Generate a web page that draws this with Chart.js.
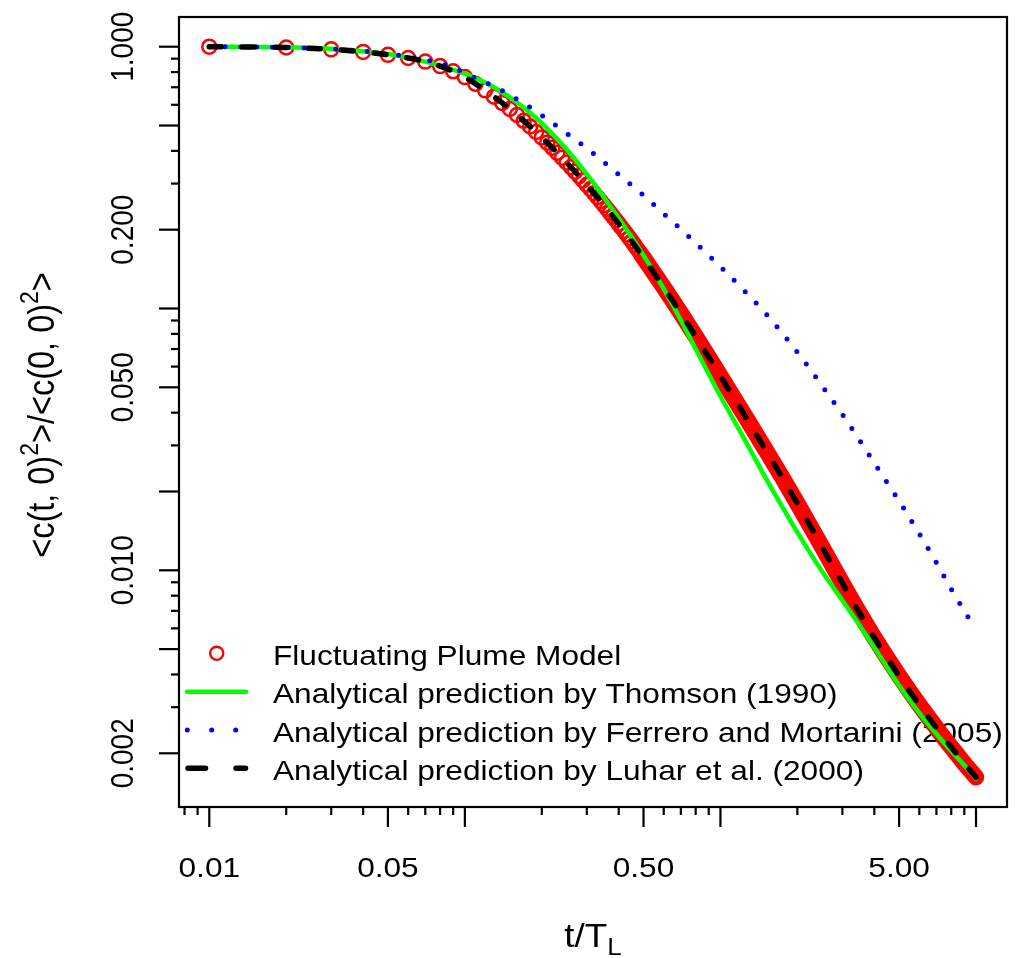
<!DOCTYPE html>
<html><head><meta charset="utf-8">
<script src="https://cdn.jsdelivr.net/npm/chart.js@4.4.1/dist/chart.umd.min.js"></script>
<style>html,body{margin:0;padding:0;background:#fff;}#wrap{width:1022px;height:958px;position:relative;}</style>
</head><body><div id="wrap"><canvas id="c" width="1022" height="958"></canvas></div>
<script>
// ---------- data ----------
const plumeT = [0.01,0.02,0.03,0.04,0.05,0.06,0.07,0.08,0.09,0.10,0.11,0.12,0.13,0.14,0.15,0.16,0.17,0.18,0.19,0.20,0.21,0.22,0.23,0.24,0.25,0.26,0.27,0.28,0.29,0.30,0.31,0.32,0.33,0.34,0.35,0.36,0.37,0.38,0.39,0.40,0.41,0.42,0.43,0.44,0.45,0.46,0.47,0.48,0.49,0.50];
const plumeV = [1.0000,0.9931,0.9772,0.9550,0.9311,0.9057,0.8770,0.8433,0.8054,0.7656,0.7216,0.6813,0.6443,0.6100,0.5780,0.5485,0.5211,0.4957,0.4722,0.4503,0.4300,0.4110,0.3933,0.3767,0.3612,0.3467,0.3331,0.3203,0.3082,0.2968,0.2860,0.2757,0.2661,0.2569,0.2482,0.2399,0.2320,0.2245,0.2173,0.2105,0.2039,0.1977,0.1918,0.1861,0.1806,0.1754,0.1702,0.1654,0.1607,0.1563];
// dense part of the model (circles merge into a solid band)
const bandT = [0.5,0.6,0.7,0.8,0.9,1.0,1.25,1.5,1.75,2.0,2.5,3.0,3.5,4.0,5.0,6.0,7.0,8.0,9.0,10.0];
const bandV = [0.1563,0.1204,0.0959,0.0782,0.0652,0.0552,0.0387,0.0289,0.0225,0.0180,0.01227,0.00893,0.00687,0.00553,0.00395,0.00306,0.00250,0.00211,0.00183,0.00162];
const thomsonT = [0.01,0.02,0.03,0.04,0.05,0.06,0.07,0.08,0.10,0.12,0.14,0.16,0.18,0.20,0.25,0.30,0.35,0.40,0.45,0.50,0.60,0.70,0.80,0.90,1.0,1.25,1.5,1.75,2.0,2.5,3.0,3.5,4.0,5.0,6.0,7.0,8.0,9.0,10.0];
const thomsonV = [1.0,0.9954,0.9817,0.9616,0.9376,0.9078,0.8770,0.8453,0.7889,0.7295,0.6699,0.6124,0.5598,0.5105,0.4055,0.3258,0.2661,0.2213,0.1871,0.1596,0.1189,0.0902,0.0700,0.0562,0.0462,0.0313,0.0226,0.0174,0.01396,0.00989,0.00767,0.00617,0.00507,0.00363,0.00285,0.00237,0.00204,0.00180,0.00160];
const ferreroT = [0.01,0.02,0.03,0.04,0.05,0.06,0.07,0.08,0.09,0.10,0.12,0.14,0.16,0.18,0.20,0.25,0.30,0.35,0.40,0.50,0.60,0.70,0.80,0.90,1.0,1.25,1.5,2.0,2.5,3.0,3.5,4.0,5.0,6.0,7.0,8.0,9.0,10.0];
const ferreroV = [1.0,0.9931,0.9795,0.9616,0.9397,0.9162,0.8913,0.8630,0.8337,0.7925,0.7311,0.6792,0.6295,0.5861,0.5470,0.4667,0.4093,0.3622,0.3251,0.2704,0.2301,0.2009,0.1778,0.1596,0.1445,0.1159,0.0959,0.0681,0.0506,0.0394,0.0314,0.0257,0.0184,0.0138,0.0107,0.00847,0.00700,0.00590];
const luharT = [0.01,0.02,0.03,0.04,0.05,0.06,0.07,0.08,0.09,0.10,0.12,0.14,0.16,0.18,0.20,0.25,0.30,0.35,0.40,0.45,0.50,0.60,0.70,0.80,0.90,1.0,1.25,1.5,1.75,2.0,2.5,3.0,3.5,4.0,5.0,6.0,7.0,8.0,9.0,10.0];
const luharV = [1.0,0.9931,0.9772,0.9550,0.9311,0.9057,0.8770,0.8433,0.8054,0.7656,0.6813,0.6100,0.5485,0.4957,0.4503,0.3612,0.2968,0.2482,0.2105,0.1806,0.1563,0.1204,0.0959,0.0782,0.0652,0.0552,0.0387,0.0289,0.0225,0.0180,0.01227,0.00893,0.00687,0.00553,0.00395,0.00306,0.00250,0.00211,0.00183,0.00162];

const xMajorTicks = [0.01,0.05,0.1,0.5,1,5,10];
const xMinorTicks = [0.008,0.009,0.02,0.03,0.04,0.06,0.07,0.08,0.09,0.2,0.3,0.4,0.6,0.7,0.8,0.9,2,3,4,6,7,8,9];
const xLabelValues = [0.01,0.05,0.5,5];
const xLabels = ['0.01','0.05','0.50','5.00'];
const yMajorTicks = [1,0.5,0.2,0.1,0.05,0.02,0.01,0.005,0.002];
const yMinorTicks = [0.9,0.8,0.7,0.6,0.4,0.3,0.09,0.08,0.07,0.06,0.04,0.03,0.009,0.008,0.007,0.006,0.004,0.003];
const yLabelValues = [1,0.2,0.05,0.01,0.002];
const yLabels = ['1.000','0.200','0.050','0.010','0.002'];
const legendLabels = ['Fluctuating Plume Model','Analytical prediction by Thomson (1990)','Analytical prediction by Ferrero and Mortarini (2005)','Analytical prediction by Luhar et al. (2000)'];

const pts = (t, v) => t.map((x, i) => ({x: x, y: v[i]}));

// ---------- drawing helpers ----------
const SX = 1.13;
const FAM = '"Liberation Sans", Arial, Helvetica, sans-serif';
function drawText(ctx, s, x, y, size, align, rot) {
  ctx.save();
  ctx.translate(x, y);
  ctx.scale(SX, 1);
  if (rot) ctx.rotate(-Math.PI / 2);
  ctx.font = size + 'px ' + FAM;
  ctx.textAlign = align || 'left';
  ctx.textBaseline = 'alphabetic';
  ctx.fillStyle = '#000';
  ctx.fillText(s, 0, 0);
  ctx.restore();
}
// segments: [text, size, raise]
function drawRich(ctx, segs, x, y, rot) {
  ctx.save();
  ctx.translate(x, y);
  ctx.scale(SX, 1);
  if (rot) ctx.rotate(-Math.PI / 2);
  ctx.fillStyle = '#000';
  ctx.textBaseline = 'alphabetic';
  ctx.textAlign = 'left';
  let w = 0;
  segs.forEach(s => { ctx.font = s[1] + 'px ' + FAM; w += ctx.measureText(s[0]).width; });
  let u = -w / 2;
  segs.forEach(s => { ctx.font = s[1] + 'px ' + FAM; ctx.fillText(s[0], u, -s[2]); u += ctx.measureText(s[0]).width; });
  ctx.restore();
}
function seg(ctx, x1, y1, x2, y2) { ctx.beginPath(); ctx.moveTo(x1, y1); ctx.lineTo(x2, y2); ctx.stroke(); }

const legendSymY = [653.3, 691.7, 730, 768.3];
const legendBase = [665, 703.3, 741.7, 780];

const rPlot = {
  id: 'rPlot',
  beforeDatasetsDraw(chart) {
    const ctx = chart.ctx;
    legendLabels.forEach((s, i) => drawText(ctx, s, 273, legendBase[i], 28, 'left'));
  },
  afterDraw(chart) {
    const ctx = chart.ctx, a = chart.chartArea, xs = chart.scales.x, ys = chart.scales.y;
    ctx.save();
    ctx.strokeStyle = '#000';
    ctx.lineWidth = 2.2;
    ctx.lineCap = 'butt';
    ctx.strokeRect(a.left, a.top, a.right - a.left, a.bottom - a.top);
    xMajorTicks.forEach(v => { const p = xs.getPixelForValue(v); seg(ctx, p, a.bottom, p, a.bottom + 20); });
    xMinorTicks.forEach(v => { const p = xs.getPixelForValue(v); seg(ctx, p, a.bottom, p, a.bottom + 8); });
    yMajorTicks.forEach(v => { const p = ys.getPixelForValue(v); seg(ctx, a.left, p, a.left - 20, p); });
    yMinorTicks.forEach(v => { const p = ys.getPixelForValue(v); seg(ctx, a.left, p, a.left - 8, p); });
    xLabelValues.forEach((v, i) => drawText(ctx, xLabels[i], xs.getPixelForValue(v), 876.7, 28, 'center'));
    yLabelValues.forEach((v, i) => drawText(ctx, yLabels[i], 133.3, ys.getPixelForValue(v), 28, 'center', true));
    // axis titles
    drawRich(ctx, [['t/T', 32.5, 0], ['L', 23, -8]], (a.left + a.right) / 2, 947, false);
    drawRich(ctx, [['<c(t, 0)', 32.5, 0], ['2', 23, 14], ['>/<c(0, 0)', 32.5, 0], ['2', 23, 14], ['>', 32.5, 0]], 54, 415, true);
    // legend symbols
    ctx.strokeStyle = '#FF0000'; ctx.lineWidth = 2.4;
    ctx.beginPath(); ctx.arc(216.7, legendSymY[0], 6.6, 0, Math.PI * 2); ctx.stroke();
    ctx.strokeStyle = '#00FF00'; ctx.lineWidth = 4.5; ctx.lineCap = 'round';
    seg(ctx, 187, legendSymY[1], 246, legendSymY[1]);
    ctx.fillStyle = '#0000FF';
    [187.3, 211.7, 235.7].forEach(x => { ctx.beginPath(); ctx.arc(x, legendSymY[2], 2.5, 0, Math.PI * 2); ctx.fill(); });
    ctx.strokeStyle = '#000'; ctx.lineWidth = 5.5; ctx.lineCap = 'round';
    seg(ctx, 188, legendSymY[3], 205.5, legendSymY[3]);
    seg(ctx, 236, legendSymY[3], 245.5, legendSymY[3]);
    ctx.restore();
  }
};

new Chart(document.getElementById('c'), {
  type: 'line',
  data: {
    datasets: [
      { label: 'band', data: pts(bandT, bandV), borderColor: '#FF0000', borderWidth: 16.5, borderCapStyle: 'round', borderJoinStyle: 'round', pointRadius: 0, cubicInterpolationMode: 'monotone', order: 6, clip: false },
      { label: legendLabels[0], data: pts(plumeT, plumeV), showLine: false, pointStyle: 'circle', pointRadius: 7, pointBorderWidth: 2.5, pointBorderColor: '#FF0000', pointBackgroundColor: 'rgba(0,0,0,0)', order: 5 },
      { label: legendLabels[1], data: pts(thomsonT, thomsonV), borderColor: '#00FF00', borderWidth: 4.5, pointRadius: 0, cubicInterpolationMode: 'monotone', order: 4, borderCapStyle: 'round' },
      { label: legendLabels[2], data: pts(ferreroT, ferreroV), borderColor: '#0000FF', borderWidth: 5, borderDash: [0, 15.8], borderCapStyle: 'round', pointRadius: 0, cubicInterpolationMode: 'monotone', order: 3 },
      { label: legendLabels[3], data: pts(luharT, luharV), borderColor: '#000000', borderWidth: 5.5, borderDash: [12, 21], borderCapStyle: 'round', pointRadius: 0, cubicInterpolationMode: 'monotone', order: 2 }
    ]
  },
  options: {
    responsive: false,
    devicePixelRatio: 1,
    animation: false,
    layout: { padding: { left: 179, top: 17, right: 15, bottom: 151 } },
    plugins: { legend: { display: false }, tooltip: { enabled: false } },
    scales: {
      x: { type: 'logarithmic', display: false, min: 0.007612, max: 13.22, bounds: 'data' },
      y: { type: 'logarithmic', display: false, min: 0.001247, max: 1.2985, bounds: 'data' }
    }
  },
  plugins: [rPlot]
});
</script></body></html>
